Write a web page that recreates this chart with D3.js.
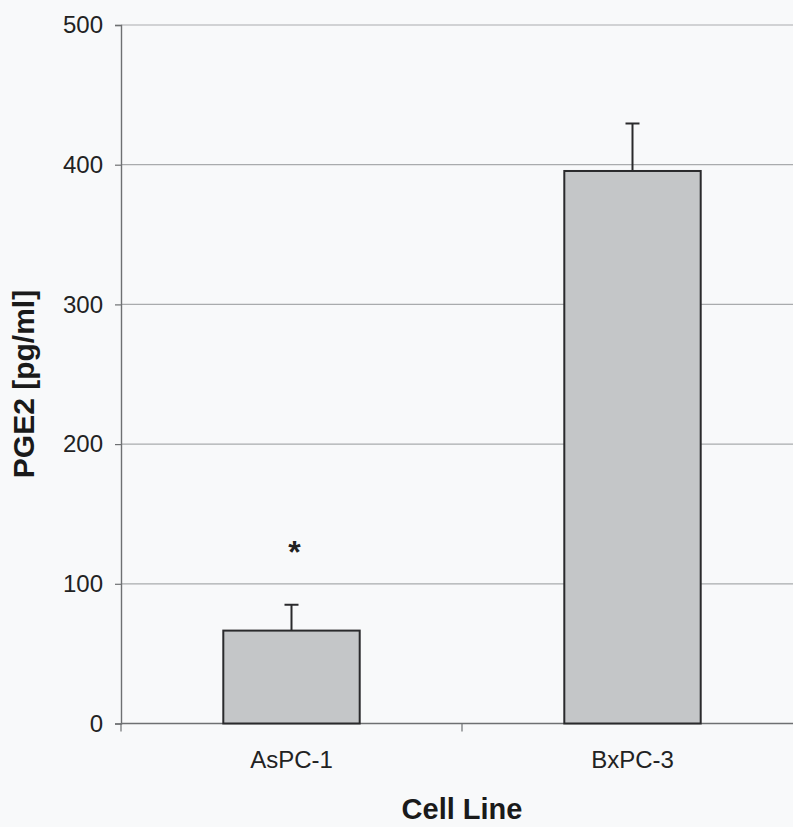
<!DOCTYPE html>
<html>
<head>
<meta charset="utf-8">
<script src="https://cdn.jsdelivr.net/npm/d3@7"></script>
<style>
  html, body { margin: 0; padding: 0; background: #f8f9fa; }
  svg { display: block; font-family: "Liberation Sans", Arial, sans-serif; }
</style>
</head>
<body>
<div id="chart"></div>
<script>
// data
const cellLines = ['AsPC-1', 'BxPC-3'];
const pge2 = [66.5, 395.5];
const pge2Err = [18.5, 34];
const marks = ['*', ''];
const yTicks = [0, 100, 200, 300, 400, 500];

const width = 793;
const height = 827;

const svg = d3.select('#chart')
  .append('svg')
  .attr('width', width)
  .attr('height', height);

const x = d3.scaleBand()
  .domain(cellLines)
  .range([121, 803])
  .paddingInner(0.6)
  .paddingOuter(0.3);

const y = d3.scaleLinear()
  .domain([0, 500])
  .range([723.5, 25]);

// gridlines
svg.append('g')
  .selectAll('line')
  .data(yTicks.filter(d => d > 0))
  .enter().append('line')
  .attr('x1', 121)
  .attr('x2', width)
  .attr('y1', d => y(d))
  .attr('y2', d => y(d))
  .attr('stroke', '#a9abad')
  .attr('stroke-width', 1.2);

// y axis
const yAxis = svg.append('g')
  .attr('transform', 'translate(121,0)')
  .call(d3.axisLeft(y).tickValues(yTicks).tickSize(6).tickPadding(12));
yAxis.attr('font-size', null).attr('font-family', null);
yAxis.select('.domain').attr('stroke', '#6e7072').attr('stroke-width', 1.4);
yAxis.selectAll('.tick line').attr('stroke', '#6e7072').attr('stroke-width', 1.2);
yAxis.selectAll('.tick text')
  .attr('fill', '#222')
  .style('font-size', '24px');

// x axis: line plus ticks between categories
const xAxisG = svg.append('g');
xAxisG.append('line')
  .attr('x1', 121).attr('x2', width)
  .attr('y1', y(0)).attr('y2', y(0))
  .attr('stroke', '#6e7072')
  .attr('stroke-width', 1.4);
const edges = cellLines.map(c => x(c) - x.step() * x.paddingInner() / 2);
edges.push(x(cellLines[cellLines.length - 1]) + x.bandwidth() + x.step() * x.paddingInner() / 2);
xAxisG.selectAll('line.tk')
  .data(edges)
  .enter().append('line')
  .attr('class', 'tk')
  .attr('x1', d => d).attr('x2', d => d)
  .attr('y1', y(0)).attr('y2', y(0) + 8)
  .attr('stroke', '#6e7072')
  .attr('stroke-width', 1.2);
xAxisG.selectAll('text')
  .data(cellLines)
  .enter().append('text')
  .attr('x', d => x(d) + x.bandwidth() / 2)
  .attr('y', 768)
  .attr('text-anchor', 'middle')
  .attr('fill', '#222')
  .style('font-size', '24px')
  .text(d => d);

// bars
svg.append('g')
  .selectAll('rect')
  .data(cellLines)
  .enter().append('rect')
  .attr('x', d => x(d))
  .attr('y', (d, i) => y(pge2[i]))
  .attr('width', x.bandwidth())
  .attr('height', (d, i) => y(0) - y(pge2[i]))
  .attr('fill', '#c4c6c8')
  .attr('stroke', '#2a2a2c')
  .attr('stroke-width', 2);

// error bars (upper only)
const err = svg.append('g')
  .attr('stroke', '#2a2a2c')
  .attr('stroke-width', 2);
cellLines.forEach((c, i) => {
  const cx = x(c) + x.bandwidth() / 2;
  err.append('line')
    .attr('x1', cx).attr('x2', cx)
    .attr('y1', y(pge2[i])).attr('y2', y(pge2[i] + pge2Err[i]));
  err.append('line')
    .attr('x1', cx - 7).attr('x2', cx + 7)
    .attr('y1', y(pge2[i] + pge2Err[i])).attr('y2', y(pge2[i] + pge2Err[i]));
});

// significance mark
svg.append('g')
  .selectAll('text')
  .data(cellLines)
  .enter().append('text')
  .attr('x', d => x(d) + x.bandwidth() / 2 + 3)
  .attr('y', (d, i) => y(pge2[i] + pge2Err[i]) - 42)
  .attr('text-anchor', 'middle')
  .attr('fill', '#222')
  .style('font-size', '32px')
  .style('font-weight', 'bold')
  .text((d, i) => marks[i]);

// axis titles
svg.append('text')
  .attr('transform', 'translate(34,384) rotate(-90)')
  .attr('text-anchor', 'middle')
  .attr('fill', '#1a1a1a')
  .style('font-size', '30px')
  .style('font-weight', 'bold')
  .text('PGE2 [pg/ml]');

svg.append('text')
  .attr('x', 462)
  .attr('y', 819)
  .attr('text-anchor', 'middle')
  .attr('fill', '#1a1a1a')
  .style('font-size', '29px')
  .style('font-weight', 'bold')
  .text('Cell Line');
</script>
</body>
</html>
